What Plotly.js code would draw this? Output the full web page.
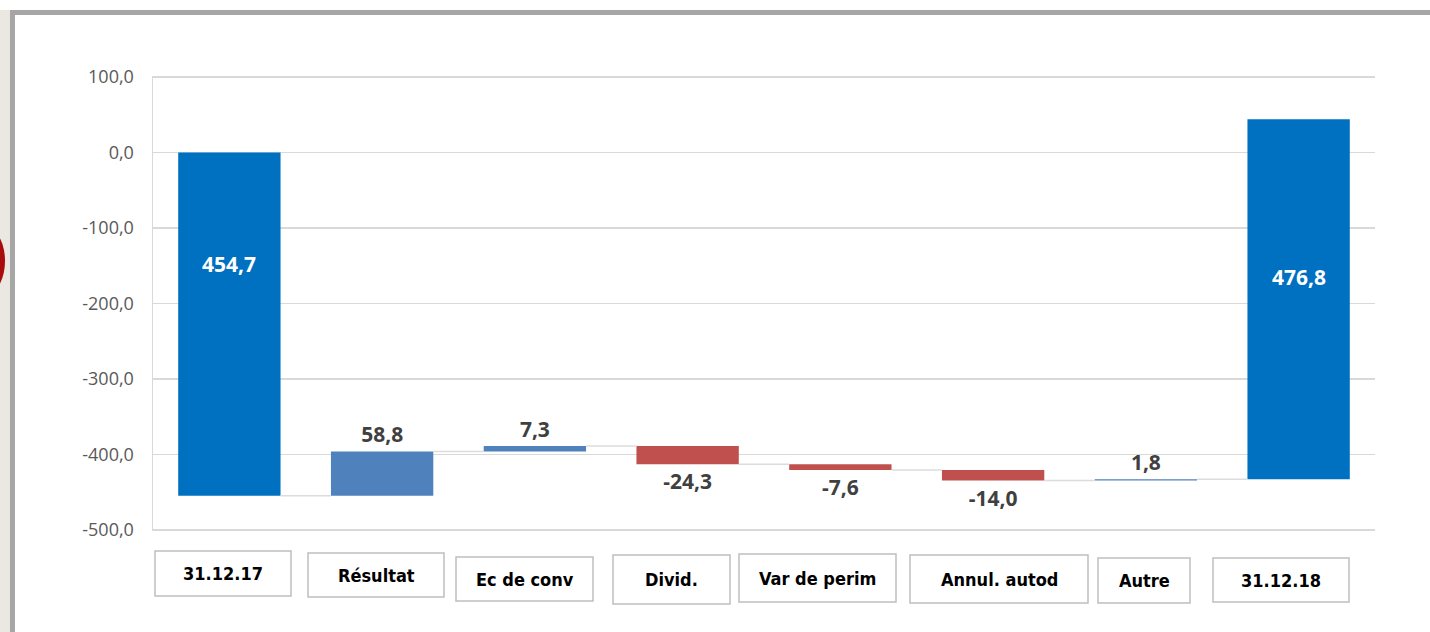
<!DOCTYPE html>
<html>
<head>
<meta charset="utf-8">
<script src="https://cdn.plot.ly/plotly-3.0.1.min.js"></script>
<style>
html,body{margin:0;padding:0;background:#fff;}
#chart{width:1430px;height:632px;}
</style>
</head>
<body>
<div id="chart"></div>
<script>
// ---- data ----
const categories = ["31.12.17", "Résultat", "Ec de conv", "Divid.", "Var de perim", "Annul. autod", "Autre", "31.12.18"];
const values = [454.7, 58.8, 7.3, -24.3, -7.6, -14.0, 1.8, 476.8];
const valueLabels = ["454,7", "58,8", "7,3", "-24,3", "-7,6", "-14,0", "1,8", "476,8"];
const yTickVals = [100, 0, -100, -200, -300, -400, -500];
const yTickText = ["100,0", "0,0", "-100,0", "-200,0", "-300,0", "-400,0", "-500,0"];

// ---- derived geometry (through the library scales) ----
const n = categories.length;
const barWidth = 0.67;
const xs = categories.map((_, i) => i);
const bases = [];
const levelsAfter = [];
let level = -values[0];           // first bar hangs down from zero
bases.push(level);
levelsAfter.push(level);
for (let i = 1; i < n - 1; i++) {
  bases.push(level);
  level += values[i];
  levelsAfter.push(level);
}
bases.push(level);                // final bar starts at running level
levelsAfter.push(level + values[n - 1]);

const colEnd = "#0070c0", colPos = "#4f81bd", colNeg = "#c0504d";
const colors = values.map((v, i) => (i === 0 || i === n - 1) ? colEnd : (v >= 0 ? colPos : colNeg));

// connectors
const cx = [], cy = [];
for (let i = 0; i < n - 1; i++) {
  cx.push(i + barWidth / 2, i + 1 - barWidth / 2, null);
  cy.push(levelsAfter[i], levelsAfter[i], null);
}

const connector = {
  type: "scatter", mode: "lines", x: cx, y: cy,
  line: {color: "#dcdcdc", width: 1.5}, hoverinfo: "skip", showlegend: false
};

const bars = {
  type: "bar", x: xs, y: values, base: bases, width: barWidth,
  marker: {color: colors, line: {width: 0}},
  text: valueLabels.map((t, i) => (i === 0 || i === n - 1) ? "" : t),
  textposition: "outside",
  cliponaxis: false,
  textfont: {family: "Open Sans", size: 21, color: "#404040", weight: 700},
  showlegend: false, hoverinfo: "skip"
};

// ---- layout helpers ----
const L = 153, R = 55, T = 76, B = 101, W = 1430, H = 632;
const pw = W - L - R, ph = H - T - B;
const px = x => (x - L) / pw;
const py = y => (H - B - y) / ph;

// category label boxes (pixel geometry: left, right, top, bottom)
const boxGeom = [
  [155, 291, 551, 596], [308, 444, 553, 597], [456, 593, 557, 601], [613, 730, 555, 604],
  [739, 896, 554, 602], [910, 1088, 555, 603], [1098, 1190, 558, 603], [1213, 1349, 558, 602]
];

const shapes = [];
const annotations = [];

// background strip at left (photo behind frame)
shapes.push({type: "rect", xref: "paper", yref: "paper", x0: px(0), x1: px(10), y0: py(632), y1: py(10),
  fillcolor: "#ebe8e2", line: {width: 0}, layer: "below"});
shapes.push({type: "circle", xref: "paper", yref: "paper", x0: px(-27), x1: px(5), y0: py(292), y1: py(230),
  fillcolor: "#a80c0c", line: {width: 0}, layer: "below"});
// frame
shapes.push({type: "line", xref: "paper", yref: "paper", x0: px(10), x1: px(1432), y0: py(12.5), y1: py(12.5),
  line: {color: "#a6a6a6", width: 5}});
shapes.push({type: "line", xref: "paper", yref: "paper", x0: px(12.5), x1: px(12.5), y0: py(10), y1: py(634),
  line: {color: "#a6a6a6", width: 5}});

boxGeom.forEach((g, i) => {
  shapes.push({type: "rect", xref: "paper", yref: "paper", x0: px(g[0]), x1: px(g[1]), y0: py(g[3]), y1: py(g[2]),
    line: {color: "#bfbfbf", width: 1.5}, fillcolor: "#ffffff"});
  annotations.push({xref: "paper", yref: "paper", x: px((g[0] + g[1]) / 2), y: py((g[2] + g[3]) / 2),
    text: "<b>" + categories[i] + "</b>", showarrow: false, xanchor: "center", yanchor: "middle",
    font: {family: "DejaVu Sans Condensed, DejaVu Sans", size: 18, color: "#000000"}});
});

// labels inside the end bars
[[0, 60], [n - 1, 22]].forEach(([i, sh]) => {
  annotations.push({xref: "x", yref: "y", x: xs[i], y: bases[i] + values[i] / 2, yshift: sh,
    text: "<b>" + valueLabels[i] + "</b>", showarrow: false,
    font: {family: "Open Sans", size: 21, color: "#ffffff"}});
});

const layout = {
  width: W, height: H,
  margin: {l: L, r: R, t: T, b: B},
  paper_bgcolor: "#ffffff", plot_bgcolor: "#ffffff",
  showlegend: false,
  xaxis: {range: [-0.5, n - 0.5], showticklabels: false, showgrid: false, zeroline: false,
    showline: false, ticks: "", fixedrange: true},
  yaxis: {range: [-501.35, 101.35], tickvals: yTickVals, ticktext: yTickText,
    showgrid: true, gridcolor: "#d9d9d9", gridwidth: 1.5, zeroline: false,
    showline: true, linecolor: "#d9d9d9", linewidth: 1.5,
    ticks: "", ticklabelstandoff: 14,
    tickfont: {family: "Open Sans", size: 18, color: "#595959"}, fixedrange: true},
  shapes: shapes,
  annotations: annotations,
  bargap: 0.33
};

Plotly.newPlot("chart", [connector, bars], layout, {displayModeBar: false, staticPlot: true});
</script>
</body>
</html>
